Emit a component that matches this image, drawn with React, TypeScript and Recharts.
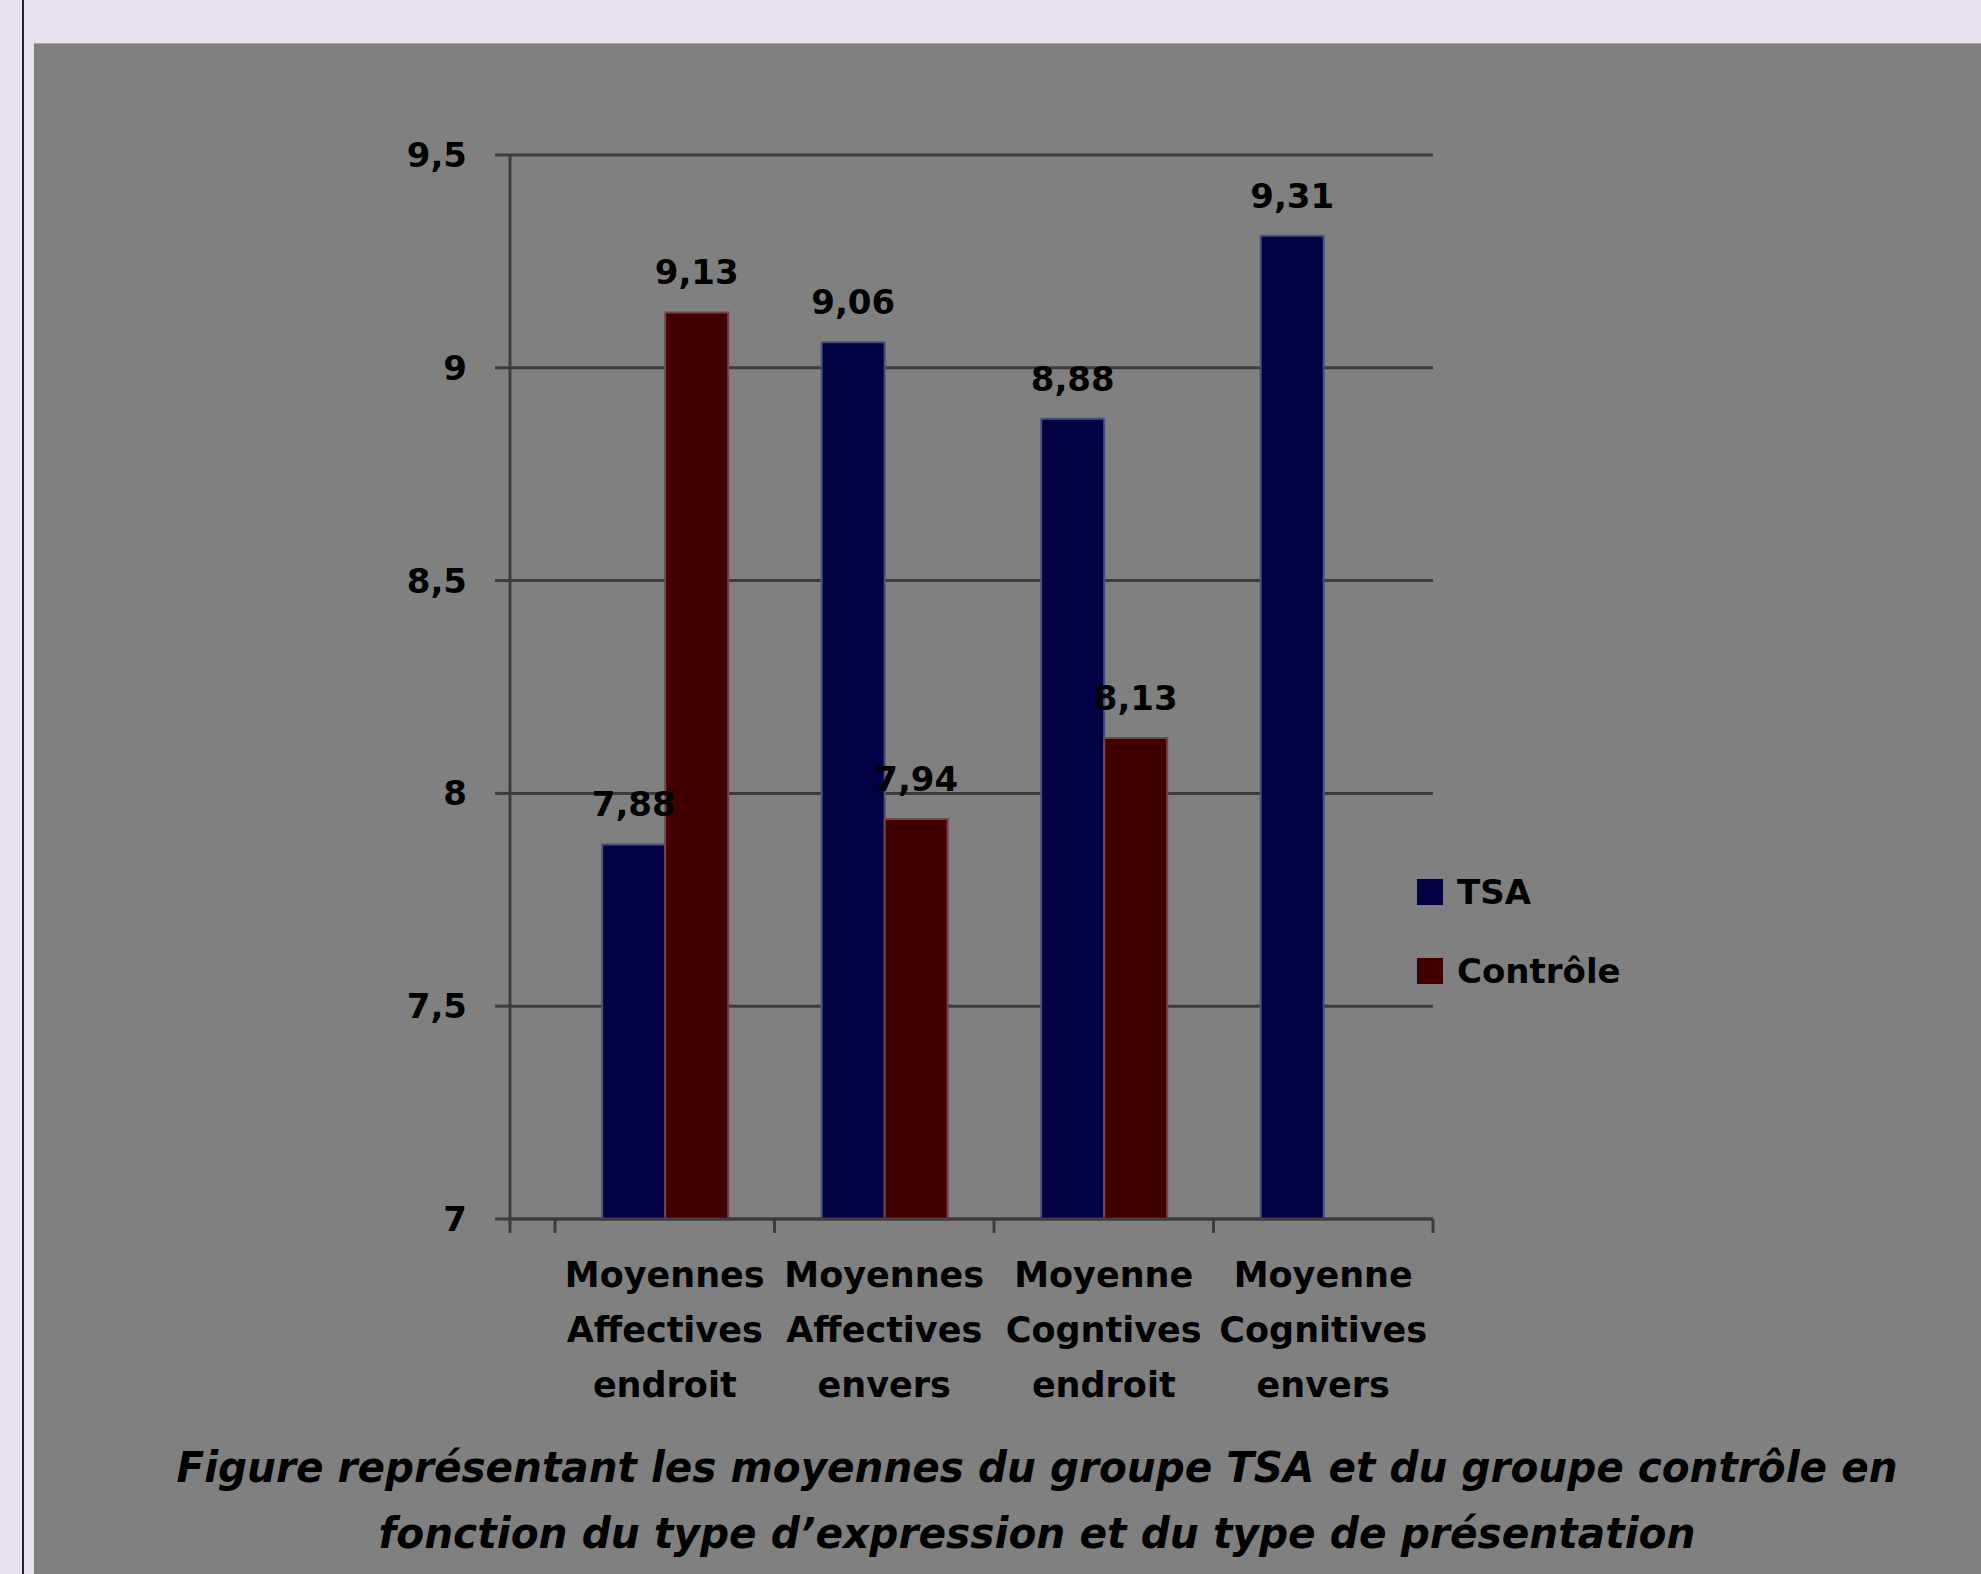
import { BarChart, Bar, XAxis, YAxis, CartesianGrid, LabelList, Legend } from "recharts"

// values
const categories = [
    "Moyennes Affectives endroit",
    "Moyennes Affectives envers",
    "Moyenne Cogntives endroit",
    "Moyenne Cognitives envers",
]
const tsaValues = [7.88, 9.06, 8.88, 9.31]
const controleValues: (number | null)[] = [9.13, 7.94, 8.13, null]
const yTicks = [7, 7.5, 8, 8.5, 9, 9.5]
const seriesNames = ["TSA", "Contrôle"]
const titleLines = [
    "Figure représentant les moyennes du groupe TSA et du groupe contrôle en",
    "fonction du type d’expression et du type de présentation",
]

const data = categories.map((name, i) => ({
    name,
    tsa: tsaValues[i],
    controle: controleValues[i],
}))

const W = 1981
const H = 1574
const PLOT_LEFT = 510
const PLOT_TOP = 155
const PLOT_RIGHT = 1433
const PLOT_BOTTOM = 1219
const X_PAD = 45

const AXIS = "#3c3c3c"
const TSA_COLOR = "#000042"
const CONTROLE_COLOR = "#400000"
const FONT = "'DejaVu Sans', sans-serif"

const fmt = (v: number | null | undefined) =>
    v == null ? "" : Number.isInteger(v) ? String(v) : String(v).replace(".", ",")
const fmt2 = (v: number | null | undefined) => (v == null ? "" : v.toFixed(2).replace(".", ","))

function CategoryTick(props: any) {
    const { x, y, payload, index } = props
    const half = payload?.offset || (PLOT_RIGHT - PLOT_LEFT - X_PAD) / categories.length / 2
    const lines = String(payload.value).split(" ")
    const isLast = index === categories.length - 1
    return (
        <g>
            <line x1={x - half} x2={x - half} y1={y} y2={y + 14} stroke={AXIS} strokeWidth={3} />
            {index === 0 && (
                <line x1={x - half - X_PAD} x2={x - half - X_PAD} y1={y} y2={y + 14} stroke={AXIS} strokeWidth={3} />
            )}
            {isLast && <line x1={x + half} x2={x + half} y1={y} y2={y + 14} stroke={AXIS} strokeWidth={3} />}
            <text textAnchor="middle" fontSize={35} fontWeight="bold" fill="#000">
                {lines.map((l, i) => (
                    <tspan key={i} x={x} y={y + 68 + i * 55}>
                        {l}
                    </tspan>
                ))}
            </text>
        </g>
    )
}

function LegendContent(props: any) {
    const items = [...(props.payload ?? [])].sort(
        (a: any, b: any) => seriesNames.indexOf(a.value) - seriesNames.indexOf(b.value)
    )
    return (
        <div>
            {items.map((item: any) => (
                <div key={item.value} style={{ display: "flex", alignItems: "center", height: 79 }}>
                    <span
                        style={{
                            width: 26,
                            height: 26,
                            background: item.color,
                            boxShadow: "0 0 0 1px rgba(120,120,160,0.5)",
                        }}
                    />
                    <span style={{ marginLeft: 14, fontSize: 34, fontWeight: "bold", color: "#000" }}>
                        {item.value}
                    </span>
                </div>
            ))}
        </div>
    )
}

export default function App() {
    return (
        <div
            style={{
                position: "absolute",
                left: 0,
                top: 0,
                width: W,
                height: H,
                overflow: "hidden",
                background: "#e6e1ec",
                fontFamily: FONT,
            }}
        >
            <div style={{ position: "absolute", left: 22, top: 0, width: 2, height: H, background: "#26222e" }} />
            <div
                style={{
                    position: "absolute",
                    left: 34,
                    top: 43,
                    right: 0,
                    bottom: 0,
                    background: "#808080",
                    borderTop: "1px solid #a9a7b1",
                }}
            />
            <div style={{ position: "absolute", left: 0, top: 0 }}>
                <BarChart
                    width={W}
                    height={H}
                    data={data}
                    margin={{ top: PLOT_TOP, right: W - PLOT_RIGHT, bottom: 0, left: 0 }}
                    barCategoryGap="21.5%"
                    barGap={0}
                >
                    <CartesianGrid vertical={false} stroke={AXIS} strokeWidth={3} />
                    <XAxis
                        dataKey="name"
                        interval={0}
                        height={H - PLOT_BOTTOM}
                        padding={{ left: X_PAD, right: 0 }}
                        tickSize={0}
                        tickMargin={0}
                        tickLine={false}
                        axisLine={{ stroke: AXIS, strokeWidth: 3 }}
                        tick={<CategoryTick />}
                    />
                    <YAxis
                        width={PLOT_LEFT}
                        domain={[7, 9.5]}
                        ticks={yTicks}
                        interval={0}
                        tickSize={15}
                        tickMargin={28}
                        tickFormatter={fmt}
                        tickLine={{ stroke: AXIS, strokeWidth: 3 }}
                        axisLine={{ stroke: AXIS, strokeWidth: 3 }}
                        tick={{ fill: "#000", fontSize: 34, fontWeight: "bold" }}
                    />
                    <Legend
                        layout="horizontal"
                        verticalAlign="middle"
                        align="center"
                        content={<LegendContent />}
                        wrapperStyle={{ left: 1417, top: 852, width: 260, height: 158 }}
                    />
                    <Bar
                        dataKey="tsa"
                        name={seriesNames[0]}
                        fill={TSA_COLOR}
                        stroke="#465283"
                        strokeWidth={2}
                        isAnimationActive={false}
                    >
                        <LabelList
                            dataKey="tsa"
                            position="top"
                            offset={28}
                            formatter={fmt2}
                            fill="#000"
                            fontSize={34}
                            fontWeight="bold"
                        />
                    </Bar>
                    <Bar
                        dataKey="controle"
                        name={seriesNames[1]}
                        fill={CONTROLE_COLOR}
                        stroke="#774444"
                        strokeWidth={2}
                        isAnimationActive={false}
                    >
                        <LabelList
                            dataKey="controle"
                            position="top"
                            offset={28}
                            formatter={fmt2}
                            fill="#000"
                            fontSize={34}
                            fontWeight="bold"
                        />
                    </Bar>
                </BarChart>
            </div>
            <svg
                width={W}
                height={H}
                style={{ position: "absolute", left: 0, top: 0, pointerEvents: "none" }}
            >
                <text
                    x={1037}
                    y={1482}
                    textAnchor="middle"
                    fontSize={42}
                    fontWeight="bold"
                    fontStyle="italic"
                    fill="#000"
                    textLength={1721}
                    lengthAdjust="spacingAndGlyphs"
                >
                    {titleLines[0]}
                </text>
                <text
                    x={1037}
                    y={1548}
                    textAnchor="middle"
                    fontSize={42}
                    fontWeight="bold"
                    fontStyle="italic"
                    fill="#000"
                    textLength={1317}
                    lengthAdjust="spacingAndGlyphs"
                >
                    {titleLines[1]}
                </text>
            </svg>
        </div>
    )
}
